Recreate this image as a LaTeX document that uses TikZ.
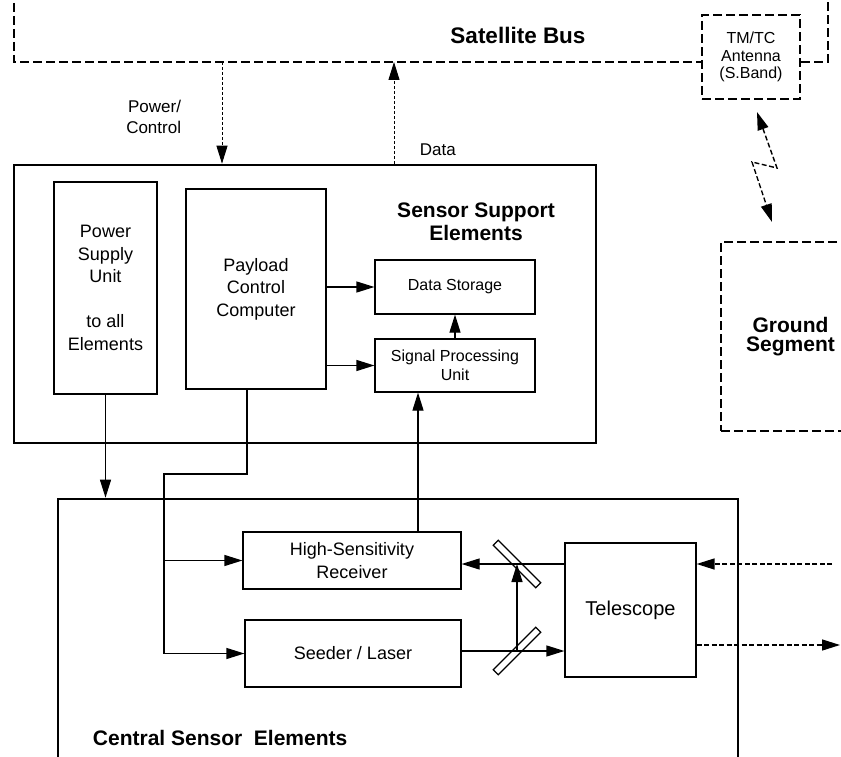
\documentclass[tikz,border=0pt]{standalone}
\usepackage{fontspec}
\setmainfont{Liberation Sans}
\usetikzlibrary{positioning,arrows.meta}
\newcommand\txtbody{\fontsize{18}{22.5}\selectfont}
\newcommand\txtsmall{\fontsize{16}{19}\selectfont}
\newcommand\txthead{\fontsize{21}{23}\selectfont\bfseries}

\begin{document}
\begin{tikzpicture}[x=1pt,y=-1pt,line width=1.2pt,
                    >={Triangle[length=18pt,width=11pt]},
                    frame/.style={draw,line width=2.6pt,inner sep=0pt},
                    unit/.style={draw,align=center,inner sep=0pt,font=\txtbody},
                    minor/.style={draw,align=center,inner sep=0pt,font=\txtsmall},
                    head/.style={align=center,font=\txthead},
                    dashbox/.style={draw,line width=2.6pt,dash pattern=on 9pt off 4pt,inner sep=0pt},
                    busline/.style={line width=2.6pt,dash pattern=on 9pt off 4pt},
                    feed/.style={line width=1pt,dash pattern=on 3pt off 2pt},
                    radio/.style={line width=1.4pt,dash pattern=on 5pt off 2.5pt},
                    mirror/.style={draw,minimum width=60pt,minimum height=7pt,inner sep=0pt}]
  \useasboundingbox (0,0) rectangle (841,757);
  \clip (0,0) rectangle (841,757);
  \fill[white] (0,0) rectangle (841,757);

  \node[dashbox,align=center,font=\fontsize{16}{17.5}\selectfont,
        minimum width=98pt,minimum height=84pt] (antenna) at (751,57) {TM/TC\\Antenna\\(S.Band)};
  \coordinate (busTL) at (14,-10);
  \coordinate (busL) at (14,62);
  \coordinate (busR) at (828,62);
  \coordinate (busTR) at (828,-10);
  \draw[busline] (busTL) -- (busL) -- (busL -| antenna.west);
  \draw[busline] (antenna.east |- busR) -- (busR) -- (busTR);
  \node[head,font=\fontsize{22.5}{24}\selectfont\bfseries] (bus) at (518,35) {Satellite Bus};

  \node[dashbox,head,font=\fontsize{21}{19}\selectfont\bfseries,
        minimum width=139pt,minimum height=189pt] (ground) at (790.5,336.5) {Ground\\Segment};
  \coordinate (z1) at (757,112);
  \coordinate (z2) at (777,168);
  \coordinate (z3) at (752,162);
  \coordinate (z4) at (772,222);
  \draw[radio,<->] (z1) -- (z2) -- (z3) -- (z4);

  \node[frame,minimum width=582pt,minimum height=278pt] (support) at (305,304) {};
  \node[head] (supporttxt) at (476,222) {Sensor Support\\Elements};
  \node[unit,minimum width=103pt,minimum height=212pt] (psu) at (105.5,288)
       {Power\\Supply\\Unit\\[22.5pt]to all\\Elements};
  \node[unit,minimum width=140pt,minimum height=200pt] (pcc) at (256,289) {Payload\\Control\\Computer};
  \node[minor,minimum width=160pt,minimum height=54pt] (store) at (455,287) {Data Storage};
  \node[minor,minimum width=160pt,minimum height=53pt] (spu) at (455,365.5) {Signal Processing\\Unit};

  \coordinate (pwr) at (222,62);
  \coordinate (dat) at (394,62);
  \draw[feed,->] (pwr) -- (pwr |- support.north);
  \draw[feed,->] (dat |- support.north) -- (dat);
  \node[anchor=east,align=right,font=\fontsize{17}{21}\selectfont] (pwrtxt) at (185,117) {Power/\\Control};
  \node[anchor=west,font=\fontsize{17}{21}\selectfont] (dattxt) at (416,150) {Data};

  \draw[->] (pcc.east |- store) -- (store);
  \draw[->] (pcc.east |- spu) -- (spu);
  \draw[->] (spu) -- (store);

  \node[frame,minimum width=680pt,minimum height=281pt] (central) at (398,639.5) {};
  \node[anchor=base west,font=\txthead] (centraltxt) at (89,745) {Central Sensor\ \ Elements};
  \node[unit,minimum width=218pt,minimum height=57pt] (rcv) at (352,560.5) {High-Sensitivity\\Receiver};
  \node[unit,minimum width=216pt,minimum height=67pt] (laser) at (353,653.5) {Seeder / Laser};
  \node[unit,font=\fontsize{20}{24}\selectfont,minimum width=131pt,minimum height=134pt] (tele) at (630.5,610) {Telescope};
  \node[mirror,rotate=-45] (m1) at (517,564) {};
  \node[mirror,rotate=45] (m2) at (517,651) {};

  \draw[->] (tele.west |- m1) -- (rcv.east |- m1);
  \draw[->] (laser.east |- m2) -- (tele.west |- m2);
  \draw[->] (m2.center) -- (m1.center);

  \coordinate (sig) at (418,0);
  \draw[->] (sig |- rcv.north) -- (sig |- spu.south);
  \draw[->] (psu.south) -- (psu.south |- central.north);
  \coordinate (ctl) at (247,474);
  \coordinate (split) at (164,474);
  \draw (ctl |- pcc.south) -- (ctl) -- (split) -- (split |- laser);
  \draw[->] (split |- rcv) -- (rcv);
  \draw[->] (split |- laser) -- (laser);

  \coordinate (skyin) at (832,564);
  \coordinate (skyout) at (840,645);
  \draw[radio,->] (skyin) -- (skyin -| tele.east);
  \draw[radio,->] (tele.east |- skyout) -- (skyout);
\end{tikzpicture}
\end{document}
